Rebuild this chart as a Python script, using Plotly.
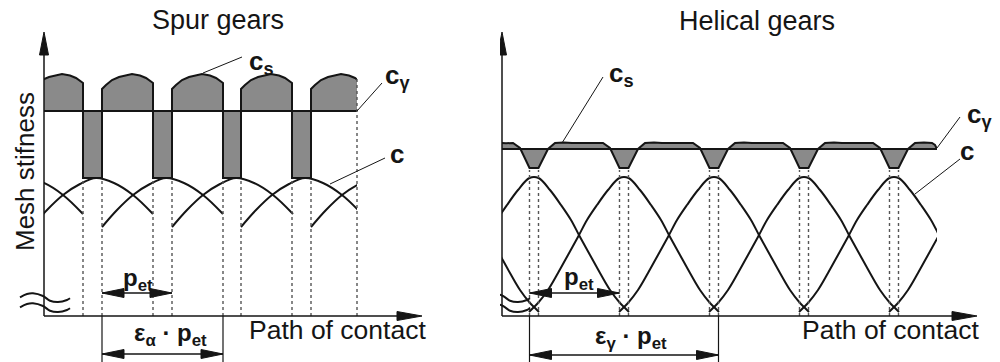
import plotly.graph_objects as go

# ---------------- data ----------------
# Spur gears: path position and stiffness in arbitrary drawing units
spur_starts = [-82, -12, 58, 128, 197, 267]          # start of contact of each tooth pair
spur_p_et = 70                                        # transverse base pitch
spur_eps_len = 121                                    # eps_alpha * p_et
spur_double_len = 51                                  # length of double contact zone
spur_tooth_x = [0, 15, 31, 48, 64, 82, 101, 121]      # single tooth stiffness c
spur_tooth_c = [89, 106, 121, 132, 138, 133, 121, 102]
spur_sum_x = [0, 4, 10, 17, 24, 30, 38, 44, 51]       # mesh stiffness c_s (double contact)
spur_sum_c = [227, 231, 236, 239, 241, 242, 240.5, 238, 233]
spur_single_c = 138                                   # c_s in single contact
spur_c_gamma = 205                                    # mean mesh stiffness c_gamma
spur_end = 313

# Helical gears
hel_p_et = 90
hel_centres = [-58, 32, 122, 212, 302, 392, 482]      # peak of each tooth stiffness
hel_eps_lo, hel_eps_hi = 27.5, 216.5                  # eps_gamma * p_et span
hel_tooth_x = [-95, -90, -86, -76, -66, -56, -45.5, -37, -27, -16, -4.5,
               4.5, 16, 27, 37, 45.5, 56, 66, 76, 86, 90, 95]
hel_tooth_c = [4, 9, 13, 26, 43, 61, 80, 96, 111, 126, 138,
               138, 126, 111, 96, 80, 61, 43, 26, 13, 9, 4]
hel_sum_x = [-45, -36, -28, -21, -14, -4.5, 4.5, 14, 21, 30, 38, 45]
hel_sum_c = [173, 173.3, 172.8, 173, 168, 148, 148, 167, 173, 173.4, 173, 173]
hel_sum_tail_x = [433, 435]
hel_sum_tail_c = [171, 167]
hel_c_gamma = 167
hel_end = 435

BLACK = "#151515"
GREY = "#8a8a8a"
DOT = "#555555"
FONT = "Liberation Sans, Arial, sans-serif"

fig = go.Figure()


def line(x, y, ax, width=2.0, color=BLACK, dash=None, shape="linear", **kw):
    fig.add_trace(go.Scatter(
        x=x, y=y, mode="lines", xaxis=ax, yaxis="y", hoverinfo="skip",
        line=dict(color=color, width=width, dash=dash, shape=shape), **kw))


def head(ax, tx, ty, dx, dy, L=22, W=4.5):
    bx, by = tx - L * dx, ty - L * dy
    px, py = -dy, dx
    fig.add_trace(go.Scatter(
        x=[tx, bx + W * px, bx - W * px, tx], y=[ty, by + W * py, by - W * py, ty],
        mode="lines", fill="toself", fillcolor=BLACK, xaxis=ax, yaxis="y",
        line=dict(color=BLACK, width=1), hoverinfo="skip"))


def dim_arrow(ax, x0, x1, y, width=1.5):
    line([x0, x1], [y, y], ax, width=width)
    head(ax, x0, y, -1, 0)
    head(ax, x1, y, 1, 0)


# ================= SPUR GEARS =================
sx, sy = [], []
for i, s in enumerate(spur_starts):
    for o, v in zip(spur_sum_x, spur_sum_c):
        sx.append(s + o)
        sy.append(v)
    nxt = spur_starts[i + 1] if i + 1 < len(spur_starts) else s + spur_p_et
    sx += [s + spur_double_len, nxt]
    sy += [spur_single_c, spur_single_c]
line([sx[0], sx[-1]], [spur_c_gamma, spur_c_gamma], "x", width=0.1)
fig.add_trace(go.Scatter(x=sx, y=sy, mode="lines", xaxis="x", yaxis="y",
                         fill="tonexty", fillcolor=GREY,
                         line=dict(color=BLACK, width=2), hoverinfo="skip"))
line([sx[0], sx[-1]], [spur_c_gamma, spur_c_gamma], "x", width=2)

for s in spur_starts:
    for xv in (s, s + spur_double_len):
        if 0 < xv < spur_end:
            line([xv, xv], [0, 136], "x3", width=1.4, color=DOT, dash="dot")
line([spur_end, spur_end], [0, 237], "x3", width=1.4, color=DOT, dash="dot")

for s in spur_starts:
    line([s + o for o in spur_tooth_x], spur_tooth_c, "x", width=2, shape="spline")

# ================= HELICAL GEARS =================
hx, hy = [], []
for c in hel_centres:
    for o, v in zip(hel_sum_x, hel_sum_c):
        if c + o < hel_sum_tail_x[0]:
            hx.append(c + o)
            hy.append(v)
hx += hel_sum_tail_x
hy += hel_sum_tail_c
line([hx[0], hx[-1]], [hel_c_gamma, hel_c_gamma], "x2", width=0.1)
fig.add_trace(go.Scatter(x=hx, y=hy, mode="lines", xaxis="x2", yaxis="y",
                         fill="tonexty", fillcolor=GREY,
                         line=dict(color=BLACK, width=2), hoverinfo="skip"))
line([0, hel_end], [hel_c_gamma, hel_c_gamma], "x2", width=2)

for c in hel_centres:
    for xv in (c - 4.5, c + 4.5):
        if 0 < xv < hel_end:
            line([xv, xv], [0, 146], "x4", width=1.4, color=DOT, dash="dot")

for c in hel_centres:
    line([c + o for o in hel_tooth_x], hel_tooth_c, "x2", width=2, shape="spline")

# ================= axes, arrows, breaks =================
for ax, xend in (("x3", 378), ("x4", 475)):
    line([0, 0], [0, 262], ax, width=1.5)
    head(ax, 0, 284, 0, 1, L=23, W=4.5)
    line([0, xend - 22], [0, 0], ax, width=1.5)
    head(ax, xend, 0, 1, 0, L=25, W=4.5)

tilde_x = [-24, -17, -11, -1, 6, 14, 23, 26]
tilde_y = [18.7, 22, 22.7, 20, 15.3, 14, 16, 17.7]
for ax, shift in (("x3", 0), ("x4", 2)):
    for dy in (0, -10):
        line([t + shift for t in tilde_x], [t + dy for t in tilde_y], ax,
             width=2, shape="spline")

dim_arrow("x3", spur_starts[2], spur_starts[3], 23)
line([spur_starts[2]] * 2, [0, -46], "x3", width=1.2)
line([spur_starts[2] + spur_eps_len] * 2, [0, -46], "x3", width=1.2)
dim_arrow("x3", spur_starts[2], spur_starts[2] + spur_eps_len, -38)

dim_arrow("x4", hel_eps_lo, hel_eps_lo + hel_p_et, 23)
line([hel_eps_lo] * 2, [0, -46], "x4", width=1.2)
line([hel_eps_hi] * 2, [0, -46], "x4", width=1.2)
dim_arrow("x4", hel_eps_lo, hel_eps_hi, -39)

# leader lines
line([198, 159], [259, 243], "x3", width=1)
line([338, 313], [233, 205], "x3", width=1)
line([341, 286], [158, 132], "x3", width=1)
line([101, 60], [239, 173], "x4", width=1)
line([458, 435], [199, 168], "x4", width=1)
line([458, 413], [157, 122], "x4", width=1)

# ================= text =================
ann = []


def text(ax, x, y, t, size, bold=False, angle=0, xanchor="center", yanchor="middle"):
    ann.append(dict(xref=ax, yref="y", x=x, y=y, text=f"<b>{t}</b>" if bold else t,
                    showarrow=False, textangle=angle, xanchor=xanchor, yanchor=yanchor,
                    font=dict(family=FONT, size=size, color=BLACK)))


text("x3", 174, 296, "Spur gears", 27)
text("x4", 255, 295, "Helical gears", 27)
text("x3", -19, 144, "Mesh stifness", 26, angle=-90)
text("x4", -18, 146, "Mesh stifness", 26, angle=-90)
text("x3", 203, -14, "Path of contact", 26.5, xanchor="left")
text("x4", 298, -14, "Path of contact", 26.5, xanchor="left")

text("x3", 203, 254, "c<sub>s</sub>", 26, bold=True, xanchor="left")
text("x3", 339, 240, "c<sub>γ</sub>", 26, bold=True, xanchor="left")
text("x3", 344, 162, "c", 26, bold=True, xanchor="left")
text("x4", 105, 242, "c<sub>s</sub>", 26, bold=True, xanchor="left")
text("x4", 463, 201, "c<sub>γ</sub>", 26, bold=True, xanchor="left")
text("x4", 456, 165, "c", 26, bold=True, xanchor="left")

text("x3", 94, 37, "p<sub>et</sub>", 24, bold=True)
text("x3", 126, -18, "ε<sub>α</sub> · p<sub>et</sub>", 24, bold=True)
text("x4", 77, 38, "p<sub>et</sub>", 24, bold=True)
text("x4", 129, -21, "ε<sub>γ</sub> · p<sub>et</sub>", 24, bold=True)

yr = [-46, 316]
fig.update_layout(
    width=1000, height=362, margin=dict(l=0, r=0, t=0, b=0),
    paper_bgcolor="white", plot_bgcolor="rgba(0,0,0,0)", showlegend=False,
    xaxis=dict(domain=[0.044, 0.357], range=[0, spur_end], visible=False, anchor="y"),
    xaxis2=dict(domain=[0.502, 0.937], range=[0, hel_end], visible=False, anchor="y"),
    xaxis3=dict(domain=[0.0, 0.5], range=[-44, 456], visible=False, anchor="y"),
    xaxis4=dict(domain=[0.5, 1.0], range=[-2, 498], visible=False, anchor="y"),
    yaxis=dict(domain=[0, 1], range=yr, visible=False),
    annotations=ann,
)
fig.write_html("out.html", config={"displayModeBar": False},
               post_script="document.body.style.margin='0px';"
                           "document.body.style.overflow='hidden';")
